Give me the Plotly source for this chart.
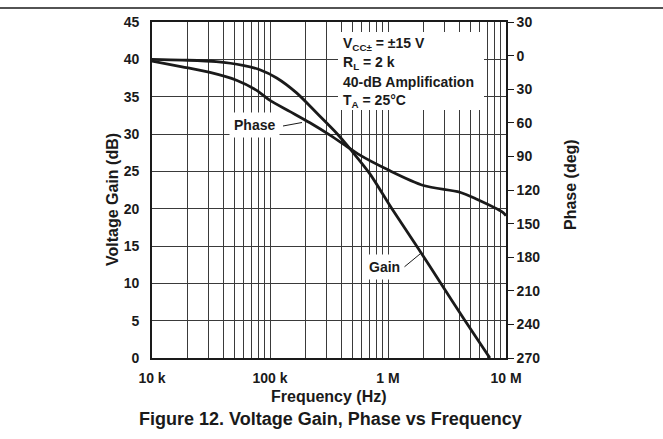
import plotly.graph_objects as go

# ---- data ----
gain_freq_hz = [1e4, 1.8e4, 3.5e4, 5.9e4, 8.2e4, 1.14e5, 1.68e5, 2.49e5, 3.67e5, 4.95e5, 7.0e5,
                1.08e6, 1.8e6, 2.8e6, 4.5e6, 7.3e6]
gain_db = [40.0, 39.9, 39.7, 39.2, 38.6, 37.5, 35.5, 32.8, 30.1, 27.7, 24.7,
           20.0, 14.7, 10.0, 5.0, 0.0]

phase_freq_hz = [1e4, 1.8e4, 3.1e4, 5.2e4, 7.7e4, 1.0e5, 1.48e5, 2.18e5, 3.22e5, 4.46e5, 5.6e5,
                 1.0e6, 2.0e6, 4.07e6, 5.6e6, 9.4e6, 1e7]
phase_deg = [5, 10, 15, 22, 31, 40, 50, 60, 71, 81, 88,
             102, 116, 122, 128, 140, 143]

x_tick_vals = [m * 10 ** d for d in (4, 5, 6) for m in range(1, 10)] + [1e7]
x_tick_text = ["10 k" if v == 1e4 else "100 k" if v == 1e5 else "1 M" if v == 1e6 else "10 M" if v == 1e7 else "" for v in x_tick_vals]

gain_ticks = [0, 5, 10, 15, 20, 25, 30, 35, 40, 45]
phase_ticks = [-30, 0, 30, 60, 90, 120, 150, 180, 210, 240, 270]
phase_tick_text = ["30", "0", "30", "60", "90", "120", "150", "180", "210", "240", "270"]

conditions = ["V<sub>CC\u00b1</sub> = \u00b115 V", "R<sub>L</sub> = 2 k", "40-dB Amplification", "T<sub>A</sub> = 25\u00b0C"]

FONT = "Liberation Sans, Arial, sans-serif"

fig = go.Figure()
fig.add_trace(go.Scatter(x=gain_freq_hz, y=gain_db, mode="lines", name="Gain",
                         line=dict(color="#1a1a1a", width=2.8, shape="spline", smoothing=0.8),
                         yaxis="y"))
fig.add_trace(go.Scatter(x=phase_freq_hz, y=phase_deg, mode="lines", name="Phase",
                         line=dict(color="#1a1a1a", width=2.8, shape="spline", smoothing=0.8),
                         yaxis="y2"))

L, R, T, B = 152, 157, 22, 81
W, H = 663, 439
pw, ph = W - L - R, H - T - B

def px(x):
    return (x - L) / pw

def py(y):
    return (H - B - y) / ph

fig.update_layout(
    width=W, height=H, autosize=False,
    margin=dict(l=L, r=R, t=T, b=B),
    paper_bgcolor="white", plot_bgcolor="white",
    showlegend=False,
    font=dict(family=FONT, size=14, color="#1a1a1a", weight="bold"),
    xaxis=dict(type="log", range=[4, 7], tickvals=x_tick_vals, ticktext=x_tick_text,
               showgrid=True, gridcolor="#3a3a3a", gridwidth=1,
               showline=True, linecolor="#1a1a1a", linewidth=1.6, mirror=True,
               ticks="", ticklabelstandoff=6, zeroline=False,
               tickfont=dict(family=FONT, size=14, weight="bold")),
    yaxis=dict(range=[0, 45], tickvals=gain_ticks,
               showgrid=True, gridcolor="#3a3a3a", gridwidth=1,
               showline=True, linecolor="#1a1a1a", linewidth=1.6,
               ticks="", ticklabelstandoff=8, zeroline=False,
               tickfont=dict(family=FONT, size=14, weight="bold")),
    yaxis2=dict(range=[270, -30], tickvals=phase_ticks, ticktext=phase_tick_text,
                overlaying="y", side="right", showgrid=False, zeroline=False,
                showline=True, linecolor="#1a1a1a", linewidth=1.6,
                ticks="outside", ticklen=6, tickcolor="#1a1a1a", tickwidth=1,
                tickfont=dict(family=FONT, size=14, weight="bold")),
)

shapes = [
    # horizontal rule at the very top of the page
    dict(type="line", xref="paper", yref="paper", x0=px(0), x1=px(W), y0=py(8), y1=py(8),
         line=dict(color="#1a1a1a", width=1.6)),
    # white box behind the test conditions
    dict(type="rect", xref="paper", yref="paper", x0=px(338), x1=px(484), y0=py(110), y1=py(32),
         fillcolor="white", line=dict(width=0), layer="above"),
    # leader lines
    dict(type="line", xref="paper", yref="paper", x0=px(283), y0=py(126), x1=px(302), y1=py(122.5),
         line=dict(color="#1a1a1a", width=1)),
    dict(type="line", xref="paper", yref="paper", x0=px(403), y0=py(268), x1=px(420), y1=py(254),
         line=dict(color="#1a1a1a", width=1)),
]
fig.update_layout(shapes=shapes)

def ann(text, x, y, size=14, xanchor="center", angle=0, bg=None, pad=1):
    d = dict(text=text, xref="paper", yref="paper", x=px(x), y=py(y),
             xanchor=xanchor, yanchor="middle", showarrow=False, textangle=angle,
             borderpad=pad, font=dict(family=FONT, size=size, weight="bold", color="#1a1a1a"))
    if bg:
        d["bgcolor"] = bg
    return d

annotations = [ann(t, 341, yc, xanchor="left") for t, yc in zip(conditions, [44, 63, 82, 101])]
annotations += [
    ann("Phase", 254, 125, bg="white", pad=4),
    ann("Gain", 384, 267, bg="white", pad=4),
    ann("Voltage Gain (dB)", 112, 200, size=16, angle=-90),
    ann("Phase (deg)", 570, 185, size=16, angle=-90),
    ann("Frequency (Hz)", 329, 396, size=16),
    ann("Figure 12. Voltage Gain, Phase vs Frequency", 330, 419, size=18),
]
fig.update_layout(annotations=annotations)

fig.write_html("out.html", config={"displayModeBar": False},
               post_script="document.body.style.margin='0';document.body.style.padding='0';")
